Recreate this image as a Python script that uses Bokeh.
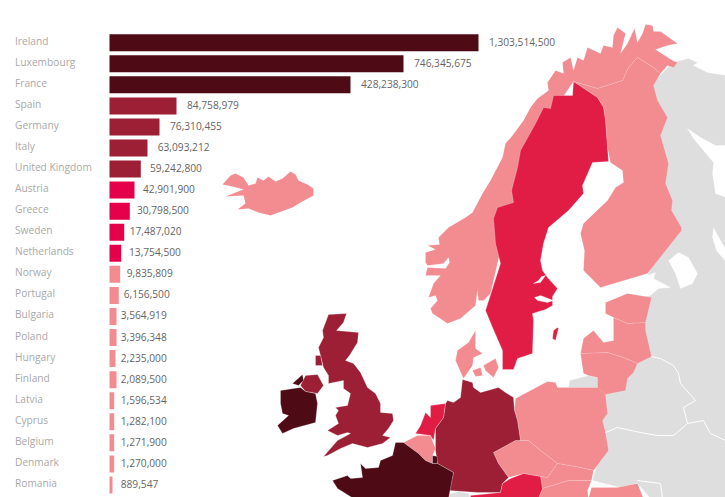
from bokeh.embed import file_html
from bokeh.models import ColumnDataSource, Range1d
from bokeh.plotting import figure
from bokeh.core.properties import value
from bokeh.resources import INLINE

# ---- bar table -------------------------------------------------------
countries = ["Ireland", "Luxembourg", "France", "Spain", "Germany", "Italy", "United Kingdom",
             "Austria", "Greece", "Sweden", "Netherlands", "Norway", "Portugal", "Bulgaria",
             "Poland", "Hungary", "Finland", "Latvia", "Cyprus", "Belgium", "Denmark", "Romania"]
amounts = [1303514500, 746345675, 428238300, 84758979, 76310455, 63093212, 59242800,
           42901900, 30798500, 17487020, 13754500, 9835809, 6156500, 3564919,
           3396348, 2235000, 2089500, 1596534, 1282100, 1271900, 1270000, 889547]
bar_lengths = [369, 294, 241, 67, 50, 38, 31.3, 25, 20.3, 14.7, 11.7, 10.7, 9.3, 7, 7, 6, 7,
               4.7, 4.7, 4.7, 4.7, 3]
label_gaps = [11, 11, 11, 11, 11, 10.7, 9.7, 9, 7.7, 6, 8.3, 7, 5.4, 4.7, 4.7, 5.7, 4.7, 7, 7, 7, 7, 8.7]
DARK, MID, RED, BARRED, PINK, GREY = "#4e0b15", "#9c1f35", "#e21d45", "#e4004b", "#f28c91", "#dedede"
bar_colors = [DARK] * 3 + [MID] * 4 + [BARRED] * 4 + [PINK] * 11

# ---- map outlines ----------------------------------------------------
east = [(672, 62), (688, 58), (697, 62), (693, 65), (707, 72), (726, 75), (726, 498), (650, 498), (637, 483), (620, 487),
        (592, 480), (600, 450), (600, 394), (630, 370), (640, 297), (650, 295), (658, 288), (670, 287), (653, 278),
        (655, 272), (647, 275), (670, 230), (655, 135), (650, 85)]
kaliningrad = [(569, 380), (588, 375), (597, 377), (597, 387), (568, 387)]
swiss = [(443, 498), (447, 494), (458, 491), (468, 493), (470, 498)]
white_sea = [(687, 128), (700, 137), (715, 145), (726, 145), (726, 197), (715, 193), (712, 173), (713, 162), (703, 150), (693, 138)]
ladoga = [(668, 260), (678, 252), (688, 257), (697, 273), (692, 283), (680, 288), (675, 273)]
onega = [(713, 227), (720, 240), (726, 250), (726, 262), (716, 250), (712, 237)]
norway = [(677, 43), (660, 31), (653, 31), (652, 25), (645, 24), (642, 33), (637, 42), (634, 28), (627, 43), (620, 53),
          (625, 33), (617, 27), (613, 35), (612, 47), (603, 45), (600, 53), (587, 47), (583, 60), (577, 57), (573, 70),
          (570, 57), (562, 62), (563, 73), (555, 70), (547, 82), (548, 90), (537, 98), (530, 107), (523, 120), (512, 135),
          (505, 143), (502, 157), (490, 180), (482, 193), (472, 212), (465, 217), (448, 227), (438, 237), (439, 244),
          (427, 245), (435, 249), (425, 252), (425, 262), (427, 265), (443, 263), (448, 257), (449, 262), (445, 268), (427, 267),
          (425, 275), (440, 275), (433, 283), (428, 297), (435, 295), (437, 300), (430, 308), (432, 313), (447, 323),
          (460, 318), (475, 305), (477, 290), (478, 300), (483, 300), (490, 293), (500, 250), (520, 200), (540, 130), (560, 100),
          (573, 81), (597, 88), (622, 80), (628, 67), (637, 57), (653, 67), (660, 73), (667, 65), (673, 67), (677, 62),
          (672, 60), (655, 49), (667, 45)]
finland = [(573, 81), (597, 88), (622, 80), (628, 67), (637, 57), (653, 67), (660, 73), (653, 85), (657, 100), (667, 117),
           (660, 135), (668, 163), (665, 183), (672, 200), (671, 210), (681, 227), (681, 230), (647, 273), (600, 287),
           (583, 270), (584, 250), (580, 233), (583, 223), (607, 200), (615, 187), (623, 182), (622, 170), (610, 162),
           (607, 147), (605, 120), (603, 107), (597, 97)]
sweden = [(573, 81), (572, 95), (553, 95), (550, 108), (543, 107), (535, 123), (520, 150), (517, 167), (511, 190), (513, 202),
          (497, 207), (493, 218), (495, 243), (500, 263), (485, 310), (492, 327), (502, 350), (502, 369), (513, 369),
          (517, 358), (532, 353), (533, 320), (532, 313), (545, 309), (552, 305), (552, 296), (557, 288), (547, 277),
          (542, 270), (540, 260), (543, 243), (548, 227), (568, 210), (583, 193), (582, 185), (592, 162), (608, 161),
          (607, 147), (605, 120), (603, 107), (597, 97)]
lake_a = [(533, 283), (540, 282), (545, 275), (541, 276), (538, 280)]
lake_b = [(534, 297), (540, 295), (553, 300), (547, 302), (537, 300)]
gotland = [(557, 327), (558, 328), (555, 340), (552, 338), (553, 330)]
jutland = [(475, 330), (468, 342), (457, 350), (455, 360), (463, 378), (472, 365), (473, 357), (482, 353), (475, 348)]
zealand = [(483, 365), (495, 358), (498, 367), (493, 377), (485, 370)]
funen = [(472, 370), (480, 367), (482, 375), (475, 376)]
germany = [(462, 379), (472, 382), (473, 387), (480, 392), (498, 387), (505, 392), (513, 397), (514, 410), (517, 420), (520, 440),
           (515, 440), (493, 452), (498, 463), (508, 477), (502, 483), (500, 492), (477, 492), (449, 490), (453, 472), (437, 463),
           (435, 450), (435, 428), (443, 417), (445, 403), (447, 400), (453, 402), (460, 397)]
netherlands = [(430, 405), (445, 403), (443, 417), (435, 428), (433, 440), (430, 435), (415, 433), (420, 425), (425, 412), (430, 417)]
belgium = [(403, 442), (417, 435), (430, 435), (435, 448), (432, 455), (432, 463), (425, 460), (418, 453)]
luxembourg = [(432, 455), (437, 456), (437, 463), (432, 463)]
france = [(395, 442), (403, 442), (418, 453), (425, 460), (432, 463), (437, 463), (453, 472), (448, 498), (353, 498), (337, 488),
          (332, 480), (347, 475), (350, 478), (362, 477), (360, 463), (365, 468), (378, 467), (380, 460), (392, 455)]
austria = [(470, 495), (500, 492), (502, 483), (510, 478), (523, 473), (540, 476), (542, 488), (538, 498), (470, 498)]
poland = [(515, 398), (547, 381), (555, 382), (557, 387), (603, 387), (605, 394), (607, 413), (602, 420), (605, 432), (608, 450),
          (593, 470), (580, 467), (557, 463), (540, 450), (528, 440), (520, 440), (517, 420), (514, 410)]
czechia = [(493, 452), (515, 440), (528, 440), (540, 450), (557, 463), (547, 477), (540, 476), (523, 473), (508, 477), (498, 463)]
slovakia = [(557, 463), (580, 467), (593, 470), (591, 480), (568, 480), (542, 488), (540, 476), (547, 477)]
hungary = [(542, 488), (568, 480), (591, 480), (587, 490), (588, 498), (538, 498)]
romania = [(591, 487), (617, 487), (637, 483), (643, 498), (588, 498)]
estonia = [(605, 302), (627, 293), (651, 297), (645, 322), (627, 323), (613, 317), (605, 313)]
latvia = [(613, 317), (627, 323), (645, 322), (645, 330), (651, 356), (637, 363), (623, 357), (607, 352), (583, 353), (580, 353), (583, 338), (593, 330),
          (603, 342), (613, 340)]
lithuania = [(580, 353), (607, 352), (623, 357), (637, 363), (633, 372), (627, 378), (625, 390), (605, 394), (597, 387), (597, 377), (588, 375), (583, 373)]
uk = [(328, 314), (346, 313), (343, 322), (336, 330), (358, 332), (357, 342), (349, 355), (345, 360), (353, 363), (360, 372),
      (367, 387), (375, 393), (380, 403), (380, 412), (392, 413), (393, 420), (388, 428), (382, 435), (390, 437), (382, 443),
      (367, 447), (352, 443), (340, 448), (327, 455), (323, 456), (337, 440), (350, 433), (347, 432), (337, 435), (327, 430),
      (338, 423), (335, 415), (338, 410), (335, 407), (347, 405), (350, 393), (343, 388), (343, 380), (328, 383), (328, 375),
      (323, 367), (318, 347), (323, 337), (322, 330)]
hebrides = [(315, 355), (320, 355), (322, 365), (315, 365)]
n_ireland = [(300, 385), (305, 375), (317, 374), (323, 385), (317, 393), (305, 391)]
ireland = [(280, 390), (293, 388), (300, 387), (305, 391), (315, 393), (317, 403), (315, 422), (293, 428), (282, 433), (277, 425),
           (288, 415), (282, 413), (280, 403)]
donegal = [(292, 383), (302, 374), (303, 380), (298, 385)]
iceland = [(222, 184), (230, 175), (235, 173), (243, 177), (248, 185), (255, 183), (257, 177), (263, 180), (268, 176), (275, 181),
           (282, 178), (290, 171), (295, 174), (298, 180), (307, 184), (313, 188), (313, 195), (300, 202), (292, 207), (270, 215),
           (258, 212), (248, 208), (237, 209), (245, 203), (243, 195), (225, 196), (235, 192), (243, 189), (232, 186)]
belarus_lines = [[(651, 356), (660, 358), (673, 365), (678, 373), (680, 383), (695, 400), (683, 407), (687, 423), (703, 420), (710, 433), (725, 440)],
                 [(605, 432), (617, 427), (640, 432), (657, 435), (673, 435), (687, 423)],
                 [(637, 480), (660, 483), (662, 498)]]

map_layers = [(east, GREY), (kaliningrad, GREY), (swiss, GREY), (white_sea, "#ffffff"), (ladoga, "#ffffff"), (onega, "#ffffff"),
              (norway, PINK), (finland, PINK), (sweden, RED), (lake_a, "#ffffff"), (lake_b, "#ffffff"), (gotland, RED),
              (jutland, PINK), (zealand, PINK), (funen, PINK), (poland, PINK), (czechia, PINK), (slovakia, PINK), (hungary, PINK),
              (romania, PINK), (estonia, PINK), (latvia, PINK), (lithuania, PINK), (germany, MID), (netherlands, RED),
              (belgium, PINK), (france, DARK), (luxembourg, DARK), (austria, RED), (uk, MID), (hebrides, MID), (n_ireland, MID),
              (ireland, DARK), (donegal, DARK), (iceland, PINK)]

W, H = 725, 497
p = figure(width=W, height=H, output_backend="svg", toolbar_location=None, x_axis_location=None, y_axis_location=None,
           x_range=Range1d(0, W), y_range=Range1d(H, 0), min_border=0, outline_line_color=None, border_fill_color="white")
p.grid.visible = False

ROW_TOP, ROW_STEP, ORIGIN = 42.2, 21.06, 109
p.extra_y_ranges = {"rows": Range1d((H - ROW_TOP) / ROW_STEP, (0 - ROW_TOP) / ROW_STEP)}
p.extra_x_ranges = {"bars": Range1d(0 - ORIGIN, W - ORIGIN)}

p.patches([[c[0] for c in poly] for poly, _ in map_layers], [[c[1] for c in poly] for poly, _ in map_layers],
          fill_color=[col for _, col in map_layers], line_color="#ffffff", line_width=0.5,
          line_alpha=[0.25 if col == PINK else 0.5 for _, col in map_layers])
p.multi_line([[c[0] for c in l] for l in belarus_lines], [[c[1] for c in l] for l in belarus_lines], line_color="#ffffff", line_width=1)

src = ColumnDataSource(dict(row=list(range(len(countries))), name=countries, length=bar_lengths, color=bar_colors,
                            label=[f"{a:,}" for a in amounts], label_x=[l + g - 0.5 for l, g in zip(bar_lengths, label_gaps)],
                            name_x=[14.5 - ORIGIN] * len(countries)))
p.hbar(y="row", left=0, right="length", height=17 / ROW_STEP, fill_color="color", line_color=None, source=src,
       x_range_name="bars", y_range_name="rows")
p.text(x="name_x", y="row", text="name", source=src, x_range_name="bars", y_range_name="rows", text_font=value("Open Sans"),
       text_font_size="10.2px", text_color="#a9a9a9", text_baseline="middle", y_offset=-2)
p.text(x="label_x", y="row", text="label", source=src, x_range_name="bars", y_range_name="rows", text_font=value("Open Sans"),
       text_font_size="10.2px", text_color="#666666", text_baseline="middle", y_offset=-1)

open("out.html", "w").write(file_html(p, INLINE))
